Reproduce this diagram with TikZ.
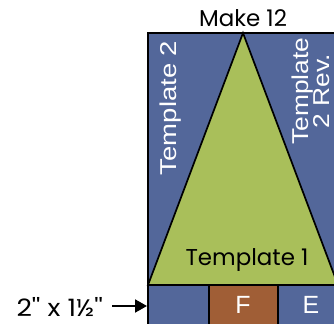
\documentclass[tikz,border=0pt]{standalone}
\usepackage{fontspec}
\setmainfont{Poppins}
\newfontfamily\dimfont{Poppins}[Ligatures=TeXOff]
\newfontfamily\piecefont{Liberation Sans}
\usetikzlibrary{positioning,arrows.meta}
\definecolor{quiltblue}{HTML}{53679A}
\definecolor{quiltgreen}{HTML}{A9BF5A}
\definecolor{quiltbrown}{HTML}{A05E36}

\begin{document}
\begin{tikzpicture}[x=1bp, y=1bp,
        patch/.style={draw=black, line width=1.7bp},
        piece/.style={font=\piecefont\fontsize{23}{21}\selectfont, text=white, align=center, inner sep=0pt},
        caption/.style={font=\fontsize{23}{23}\selectfont, inner sep=0pt},
        >={Triangle[length=12bp, width=13bp]}
    ]
        \useasboundingbox (0,0) rectangle (334,324);
        \clip (0,0) rectangle (334,324);

        % block outline
        \coordinate (tl) at (148,291);
        \coordinate (br) at (338,-5);
        \coordinate (apex) at (243,291);
        \coordinate (bl) at (148,39);
        \coordinate (bR) at (338,39);

        \fill [quiltblue] (tl) rectangle (br);
        \filldraw [patch, fill=quiltgreen] (bl) -- (apex) -- (bR) -- cycle;
        \fill [quiltbrown] (209,39) rectangle (278,-5);
        \draw [patch] (bl) -- (bR);
        \draw [patch] (209,39) -- (209,-5);
        \draw [patch] (278,39) -- (278,-5);
        \draw [patch] (148,-5) -- (tl) -- (338,291);

        \node [caption] (make) at (243,306) {Make 12};
        \node [piece, rotate=90, xscale=1.2] (left) at (171,216) {Template 2};
        \node [piece, rotate=90, xscale=1.15] (right) at (311,233) {Template\\2 Rev.};
        \node [caption] (center) at (247,64) {Template 1};
        \node [piece, font=\piecefont\fontsize{25}{25}\selectfont] (f) at (243,19) {F};
        \node [piece, font=\piecefont\fontsize{25}{25}\selectfont] (e) at (311,19) {E};

        \node [caption, font=\dimfont\fontsize{24}{24}\selectfont, xscale=1.12, anchor=east] (size) at (103,17) {2'' x 1½''};
        \coordinate (edge) at (147,18);
        \draw [->, line width=2bp, shorten <=9bp] (size.east |- edge) -- (edge);

    \end{tikzpicture}
\end{document}
